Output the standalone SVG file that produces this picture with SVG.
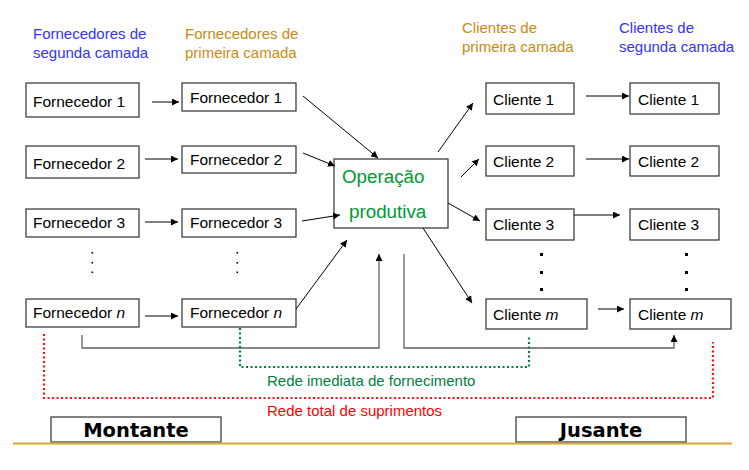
<svg xmlns="http://www.w3.org/2000/svg" width="749" height="470" viewBox="0 0 749 470">
<style>
text{font-family:"Liberation Sans",Arial,sans-serif;}
.box{fill:#fff;stroke:#404040;stroke-width:1.3;}
.t{font-size:15.5px;fill:#000;}
.hb{font-size:15px;fill:#3333ff;}
.ho{font-size:15px;fill:#c98a14;}
.ln{stroke:#000;stroke-width:1;fill:none;}
.gl{stroke:#606060;stroke-width:1.3;fill:none;}
.big{font-family:"DejaVu Sans",sans-serif;font-weight:bold;font-size:19.5px;fill:#000;text-anchor:middle;}
</style>
<defs>
<marker id="ah" viewBox="0 0 10 10" refX="10" refY="5" markerWidth="7" markerHeight="7" markerUnits="userSpaceOnUse" orient="auto">
<path d="M0,0 L10,5 L0,10 z" fill="#000"/>
</marker>
</defs>
<rect width="749" height="470" fill="#fff"/>

<g id="headers">
<text class="hb" x="33" y="39">Fornecedores de</text>
<text class="hb" x="33" y="58">segunda camada</text>
<text class="ho" x="185" y="39">Fornecedores de</text>
<text class="ho" x="185" y="58">primeira camada</text>
<text class="ho" x="462" y="33">Clientes de</text>
<text class="ho" x="462" y="52">primeira camada</text>
<text class="hb" x="619" y="33">Clientes de</text>
<text class="hb" x="619" y="52">segunda camada</text>
</g>

<g id="f2-1"><rect class="box" x="26" y="83" width="113" height="34"/><text class="t" x="33" y="107">Fornecedor 1</text></g>
<g id="f2-2"><rect class="box" x="26" y="146" width="113" height="32"/><text class="t" x="33" y="169">Fornecedor 2</text></g>
<g id="f2-3"><rect class="box" x="26" y="209" width="113" height="28"/><text class="t" x="33" y="228">Fornecedor 3</text></g>
<g id="f2-n"><rect class="box" x="26" y="299" width="113" height="28"/><text class="t" x="33" y="318">Fornecedor <tspan font-style="italic">n</tspan></text></g>

<g id="f1-1"><rect class="box" x="182" y="83" width="114" height="28"/><text class="t" x="190" y="103">Fornecedor 1</text></g>
<g id="f1-2"><rect class="box" x="182" y="146" width="114" height="27"/><text class="t" x="190" y="165">Fornecedor 2</text></g>
<g id="f1-3"><rect class="box" x="182" y="209" width="114" height="28"/><text class="t" x="190" y="228">Fornecedor 3</text></g>
<g id="f1-n"><rect class="box" x="182" y="299" width="114" height="28"/><text class="t" x="190" y="318">Fornecedor <tspan font-style="italic">n</tspan></text></g>

<g id="op"><rect class="box" x="334" y="159" width="114" height="69"/>
<text x="342" y="183" font-size="18.8" fill="#009933">Operação</text>
<text x="349" y="218" font-size="18.8" fill="#009933">produtiva</text></g>

<g id="c1-1"><rect class="box" x="486" y="83" width="88" height="31"/><text class="t" x="493" y="105">Cliente 1</text></g>
<g id="c1-2"><rect class="box" x="486" y="146" width="88" height="30"/><text class="t" x="493" y="167">Cliente 2</text></g>
<g id="c1-3"><rect class="box" x="486" y="209" width="88" height="31"/><text class="t" x="493" y="230">Cliente 3</text></g>
<g id="c1-m"><rect class="box" x="486" y="299" width="101" height="30"/><text class="t" x="493" y="320">Cliente <tspan font-style="italic">m</tspan></text></g>

<g id="c2-1"><rect class="box" x="630" y="83" width="89" height="31"/><text class="t" x="638" y="105">Cliente 1</text></g>
<g id="c2-2"><rect class="box" x="630" y="146" width="89" height="30"/><text class="t" x="638" y="167">Cliente 2</text></g>
<g id="c2-3"><rect class="box" x="630" y="209" width="89" height="31"/><text class="t" x="638" y="230">Cliente 3</text></g>
<g id="c2-m"><rect class="box" x="630" y="299" width="101" height="30"/><text class="t" x="638" y="320">Cliente <tspan font-style="italic">m</tspan></text></g>

<g id="dots">
<g fill="#000">
<rect x="91.5" y="252" width="1.6" height="1.6"/><rect x="91.5" y="262" width="1.6" height="1.6"/><rect x="91.5" y="271.5" width="1.6" height="1.6"/>
<rect x="236.5" y="252" width="1.6" height="1.6"/><rect x="236.5" y="262" width="1.6" height="1.6"/><rect x="236.5" y="271.5" width="1.6" height="1.6"/>
<rect x="540" y="253" width="3" height="3"/><rect x="540" y="271" width="3" height="3"/><rect x="540" y="288" width="3" height="3"/>
<rect x="685" y="253" width="3" height="3"/><rect x="685" y="271" width="3" height="3"/><rect x="685" y="288" width="3" height="3"/>
</g>
</g>

<g id="connectors">
<line class="ln" x1="152" y1="102" x2="179" y2="102" marker-end="url(#ah)"/>
<line class="ln" x1="145" y1="159" x2="178" y2="159" marker-end="url(#ah)"/>
<line class="ln" x1="145" y1="222" x2="178" y2="222" marker-end="url(#ah)"/>
<line class="ln" x1="145" y1="316" x2="178" y2="316" marker-end="url(#ah)"/>

<line class="ln" x1="303" y1="96" x2="378" y2="158" marker-end="url(#ah)"/>
<line class="ln" x1="303" y1="153" x2="335" y2="166" marker-end="url(#ah)"/>
<line class="ln" x1="302" y1="221" x2="340" y2="215" marker-end="url(#ah)"/>
<line class="ln" x1="296" y1="309" x2="347" y2="240" marker-end="url(#ah)"/>

<line class="ln" x1="438" y1="152" x2="473" y2="103" marker-end="url(#ah)"/>
<line class="ln" x1="461" y1="177" x2="479" y2="159" marker-end="url(#ah)"/>
<line class="ln" x1="448" y1="203" x2="480" y2="221" marker-end="url(#ah)"/>
<line class="ln" x1="423" y1="228" x2="472" y2="303" marker-end="url(#ah)"/>

<line class="ln" x1="586" y1="96" x2="629" y2="96" marker-end="url(#ah)"/>
<line class="ln" x1="586" y1="159" x2="629" y2="159" marker-end="url(#ah)"/>
<line class="ln" x1="574" y1="215" x2="620" y2="215" marker-end="url(#ah)"/>
<line class="ln" x1="598" y1="309" x2="624" y2="309" marker-end="url(#ah)"/>

<path class="gl" d="M82,335 V348 H379 V254" marker-end="url(#ah)"/>
<path class="gl" d="M404,254 V348 H674 V335" marker-end="url(#ah)"/>

<path d="M240,328 V367 H529 V335" fill="none" stroke="#007f3f" stroke-width="2.2" stroke-dasharray="2 2.5"/>
<path d="M44,334 V398 H713 V342" fill="none" stroke="#ff1010" stroke-width="2.2" stroke-dasharray="2 2.5"/>
</g>

<g id="labels">
<text x="267" y="386" font-size="15" fill="#007f3f">Rede imediata de fornecimento</text>
<text x="267" y="416" font-size="15" fill="#ff0000">Rede total de suprimentos</text>
</g>

<g id="montante"><rect class="box" x="51" y="417" width="170" height="25"/><text class="big" x="136" y="437">Montante</text></g>
<g id="jusante"><rect class="box" x="516" y="417" width="170" height="25"/><text class="big" x="601" y="437">Jusante</text></g>

<line x1="13" y1="443.5" x2="732" y2="443.5" stroke="#d4aa30" stroke-width="2"/>
</svg>
